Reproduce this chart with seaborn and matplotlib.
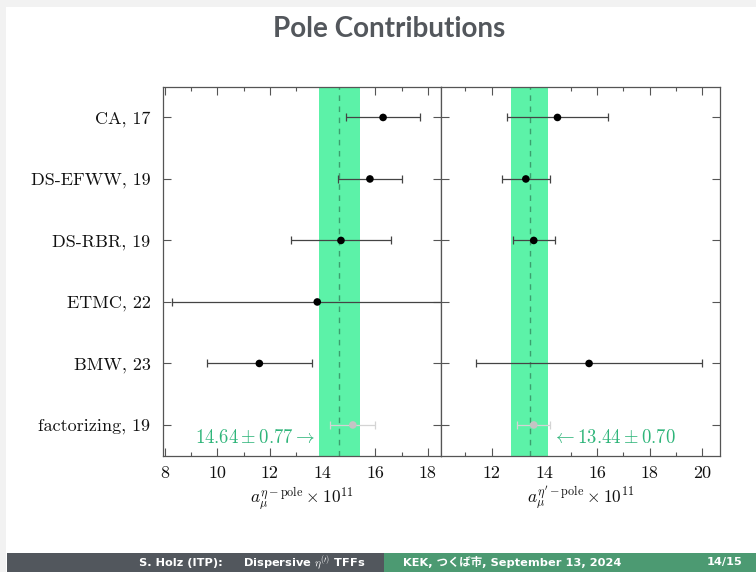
import numpy as np
import pandas as pd
import seaborn as sns
import matplotlib
matplotlib.use("Agg")
import matplotlib.pyplot as plt
from matplotlib.ticker import MultipleLocator, FormatStrFormatter
from matplotlib.patches import Rectangle

# ---- data -------------------------------------------------------------
labels = ["CA, 17", "DS-EFWW, 19", "DS-RBR, 19", "ETMC, 22", "BMW, 23", "factorizing, 19"]
kind = ["result", "result", "result", "result", "result", "factorizing"]

eta_val = [16.3, 15.8, 14.7, 13.8, 11.6, 15.15]
eta_err = [1.4, 1.2, 1.9, 5.5, 2.0, 0.85]

etap_val = [14.5, 13.3, 13.6, np.nan, 15.7, 13.6]
etap_err = [1.9, 0.9, 0.8, np.nan, 4.3, 0.62]

eta_avg, eta_avg_err = 14.64, 0.77
etap_avg, etap_avg_err = 13.44, 0.70

df = pd.DataFrame({
    "label": labels,
    "pos": np.arange(len(labels)),
    "kind": kind,
    "eta": eta_val,
    "eta_err": eta_err,
    "etap": etap_val,
    "etap_err": etap_err,
})

# ---- style ------------------------------------------------------------
sns.set_theme(style="white")
plt.rcParams.update({
    "font.family": "serif",
    "font.serif": ["cmr10", "DejaVu Serif"],
    "mathtext.fontset": "cm",
    "axes.formatter.use_mathtext": False,
    "axes.unicode_minus": False,
    "axes.edgecolor": "#555555",
    "axes.linewidth": 0.9,
})

W, H = 756, 572
fig = plt.figure(figsize=(W / 100, H / 100), dpi=100)
fig.patch.set_facecolor("white")

# slide frame and footer
fig.patches.append(Rectangle((0, 1 - 7 / H), 1, 7 / H, transform=fig.transFigure,
                             color="#f2f2f2", lw=0, zorder=0))
fig.patches.append(Rectangle((0, 0), 6 / W, 1 - 7 / H, transform=fig.transFigure,
                             color="#f2f2f2", lw=0, zorder=0))
fig.patches.append(Rectangle((7 / W, 0), (384 - 7) / W, 19.5 / H, transform=fig.transFigure,
                             color="#52575d", lw=0, zorder=1))
fig.patches.append(Rectangle((384 / W, 0), (W - 384) / W, 19.5 / H, transform=fig.transFigure,
                             color="#4c9a72", lw=0, zorder=1))

fig.text(389 / W, 1 - 29 / H, "Pole Contributions", ha="center", va="center",
         fontsize=20, fontweight="bold", color="#53575c", family=["Lato", "DejaVu Sans"])

foot_kw = dict(va="center", fontsize=8.2, fontweight="bold", color="white",
               family=["DejaVu Sans", "Noto Sans CJK JP"])
yf = 9.5 / H
fig.text(223 / W, yf, "S. Holz (ITP):", ha="right", **foot_kw)
fig.text(243 / W, yf, r"Dispersive $\eta^{(\prime)}$ TFFs", ha="left", **foot_kw)
fig.text(403 / W, yf, "KEK, つくば市, September 13, 2024", ha="left", **foot_kw)
fig.text(742 / W, yf, "14/15", ha="right", **foot_kw)

# ---- panels -----------------------------------------------------------
bottom = 1 - 455.7 / H
height = 369 / H
ax1 = fig.add_axes([163 / W, bottom, 278 / W, height])
ax2 = fig.add_axes([441 / W, bottom, 279.3 / W, height])

band_color = "#5cf2a8"
line_color = "#3b9f6e"
text_color = "#2fb57a"
palette = {"result": "black", "factorizing": "#c4c4c4"}
bar_colors = {"result": "#444444", "factorizing": "#d4d4d4"}

panels = [
    (ax1, "eta", "eta_err", eta_avg, eta_avg_err, (7.94, 18.5),
     r"$a_\mu^{\eta-\mathrm{pole}} \times 10^{11}$"),
    (ax2, "etap", "etap_err", etap_avg, etap_avg_err, (10.08, 20.68),
     r"$a_\mu^{\eta^\prime-\mathrm{pole}} \times 10^{11}$"),
]

for ax, col, ecol, avg, avg_err, xlim, xlabel in panels:
    ax.set_facecolor("white")
    ax.axvspan(avg - avg_err, avg + avg_err, color=band_color, lw=0, zorder=1)
    ax.axvline(avg, color=line_color, lw=1.0, ls=(0, (4, 4)), zorder=2)

    sub = df.dropna(subset=[col])
    for k, grp in sub.groupby("kind"):
        ax.errorbar(grp[col], grp["pos"], xerr=grp[ecol], fmt="none",
                    ecolor=bar_colors[k], elinewidth=0.9, capsize=2.6,
                    capthick=0.9, zorder=3)
    sns.scatterplot(data=sub, x=col, y="pos", hue="kind", palette=palette,
                    s=30, edgecolor="none", legend=False, zorder=4, ax=ax)

    ax.set_xlim(*xlim)
    ax.set_ylim(5.5, -0.5)
    ax.xaxis.set_major_locator(MultipleLocator(2))
    ax.xaxis.set_minor_locator(MultipleLocator(1))
    ax.xaxis.set_major_formatter(FormatStrFormatter("%d"))
    ax.set_yticks(df["pos"])
    ax.tick_params(which="both", direction="in", top=True, bottom=True,
                   left=True, right=True, color="#555555", width=0.8,
                   labelcolor="#111111")
    ax.tick_params(which="major", length=5.5)
    ax.tick_params(which="minor", length=3)
    ax.tick_params(axis="x", pad=7, labelsize=13)
    ax.tick_params(axis="y", labelsize=13)
    ax.set_xlabel(xlabel, fontsize=12.5, labelpad=3, color="#111111")
    ax.set_ylabel("")
    for sp in ax.spines.values():
        sp.set_visible(True)
        sp.set_color("#555555")
        sp.set_linewidth(0.9)

ax1.set_yticklabels(df["label"])
ax1.tick_params(axis="y", pad=9)
ax2.tick_params(axis="y", labelleft=False)

ax1.text(13.71, 5.21, rf"${eta_avg:.2f} \pm {eta_avg_err:.2f} \rightarrow$",
         ha="right", va="center", fontsize=13.5, color=text_color, zorder=5)
ax2.text(14.28, 5.21, rf"$\leftarrow {etap_avg:.2f} \pm {etap_avg_err:.2f}$",
         ha="left", va="center", fontsize=13.5, color=text_color, zorder=5)

fig.savefig("out.png", dpi=100)
